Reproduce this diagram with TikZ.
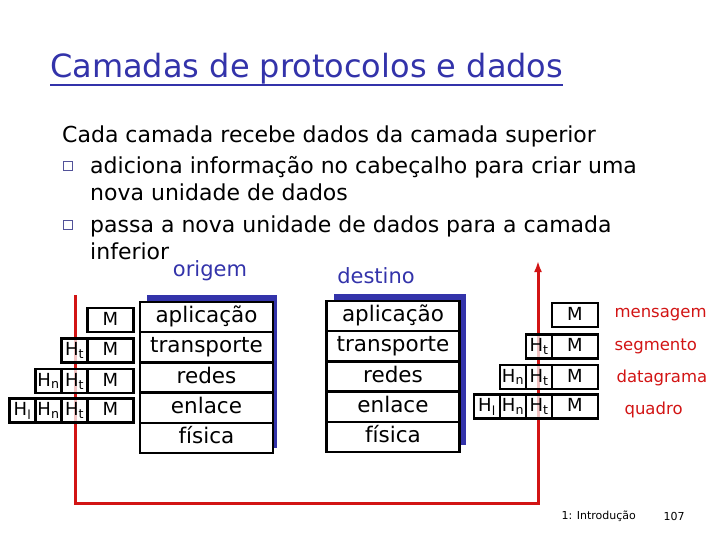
\documentclass[tikz,border=0pt]{standalone}
\usepackage{fontspec}
\setmainfont{DejaVu Sans}
\usetikzlibrary{positioning,arrows.meta,backgrounds}

\definecolor{azul}{RGB}{51,51,170}
\definecolor{vermelho}{RGB}{210,20,20}

\begin{document}
\begin{tikzpicture}[
        x=1pt, y=-1pt,
        >={Latex[length=11pt,width=8pt]},
        camada/.style={draw, fill=white, line width=2.4pt, outer sep=0pt, inner sep=0pt,
            minimum width=133pt, minimum height=30.2pt, text height=15pt, text depth=4pt,
            font=\fontsize{21.5}{21.5}\selectfont},
        pacote/.style={draw, fill=white, fill opacity=0.75, text opacity=1, line width=2.4pt,
            outer sep=0pt, inner sep=0pt, minimum height=24pt, text height=12.5pt, text depth=2pt,
            font=\fontsize{18}{18}\selectfont},
        msg/.style={pacote, minimum width=46pt},
        cab/.style={pacote, minimum width=26pt},
        nome/.style={anchor=west, text=vermelho, font=\fontsize{16.5}{16.5}\selectfont},
        lado/.style={text=azul, font=\fontsize{21}{21}\selectfont},
        corpo/.style={anchor=base west, inner sep=0pt, font=\fontsize{22}{22}\selectfont},
        marca/.style={draw=azul!60!gray, line width=0.8pt, minimum size=9pt, inner sep=0pt},
        rota/.style={draw=vermelho, line width=3pt}
    ]

    \useasboundingbox (0,0) rectangle (720,540);

    % titulo e texto
    \node[anchor=base west, inner sep=0pt, text=azul, font=\fontsize{32}{32}\selectfont]
        (titulo) at (50,78) {Camadas de protocolos e dados};
    \draw[azul, line width=2.2pt] ([yshift=-7pt]titulo.base west) -- ([yshift=-7pt]titulo.base east);

    \node[corpo] (linha1) at (62,143) {Cada camada recebe dados da camada superior};
    \node[marca] (m1) at (68,166) {};
    \node[corpo] (linha2) at (90,174) {adiciona informação no cabeçalho para criar uma};
    \node[corpo] (linha3) at (90,201) {nova unidade de dados};
    \node[marca] (m2) at (68,225) {};
    \node[corpo] (linha4) at (90,233) {passa a nova unidade de dados para a camada};
    \node[corpo] (linha5) at (90,259) {inferior};

    \node[lado] (origem) at (210,271) {origem};
    \node[lado] (destino) at (376,276) {destino};

    % pilha de origem
    \node[camada] (oapl) at (206.5,317.1) {aplicação};
    \node[camada, below=0pt of oapl] (otra) {transporte};
    \node[camada, below=0pt of otra] (ored) {redes};
    \node[camada, below=0pt of ored] (oenl) {enlace};
    \node[camada, below=0pt of oenl] (ofis) {física};

    % pilha de destino
    \node[camada] (dapl) at (393,316.1) {aplicação};
    \node[camada, below=0pt of dapl] (dtra) {transporte};
    \node[camada, below=0pt of dtra] (dred) {redes};
    \node[camada, below=0pt of dred] (denl) {enlace};
    \node[camada, below=0pt of denl] (dfis) {física};

    % pacotes na origem
    \node[msg] (om1) at (110.5,320) {M};
    \node[msg] (om2) at (110.5,350.5) {M};
    \node[cab, left=0pt of om2] (ot2) {H\textsubscript{t}};
    \node[msg] (om3) at (110.5,381) {M};
    \node[cab, left=0pt of om3] (ot3) {H\textsubscript{t}};
    \node[cab, left=0pt of ot3] (on3) {H\textsubscript{n}};
    \node[msg] (om4) at (110.5,410.5) {M};
    \node[cab, left=0pt of om4] (ot4) {H\textsubscript{t}};
    \node[cab, left=0pt of ot4] (on4) {H\textsubscript{n}};
    \node[cab, left=0pt of on4] (ol4) {H\textsubscript{l}};

    % pacotes no destino
    \node[msg] (dm1) at (575,315) {M};
    \node[msg] (dm2) at (575,346.5) {M};
    \node[cab, left=0pt of dm2] (dt2) {H\textsubscript{t}};
    \node[msg] (dm3) at (575,377) {M};
    \node[cab, left=0pt of dm3] (dt3) {H\textsubscript{t}};
    \node[cab, left=0pt of dt3] (dn3) {H\textsubscript{n}};
    \node[msg] (dm4) at (575,406.5) {M};
    \node[cab, left=0pt of dm4] (dt4) {H\textsubscript{t}};
    \node[cab, left=0pt of dt4] (dn4) {H\textsubscript{n}};
    \node[cab, left=0pt of dn4] (dl4) {H\textsubscript{l}};

    \node[nome] (mensagem) at (611,315) {mensagem};
    \node[nome] (segmento) at (611,346) {segmento};
    \node[nome] (datagrama) at (613,378) {datagrama};
    \node[nome] (quadro) at (621,410) {quadro};

    \node[anchor=west, font=\fontsize{11}{11}\selectfont] (rodape) at (558,516) {1: Introdução};
    \node[font=\fontsize{11}{11}\selectfont] (pagina) at (674,516) {107};

    \coordinate (saida) at (75,295);
    \coordinate (fundo) at (538,503);
    \coordinate (chegada) at (538,261);

    \begin{scope}[on background layer]
        \fill[azul] ([shift={(7,-7)}]oapl.north west) rectangle ([shift={(4,-5)}]ofis.south east);
        \fill[azul] ([shift={(7,-7)}]dapl.north west) rectangle ([shift={(6,-7)}]dfis.south east);
        \draw[rota, ->] (saida) |- (fundo) -- (chegada);
    \end{scope}

\end{tikzpicture}
\end{document}
